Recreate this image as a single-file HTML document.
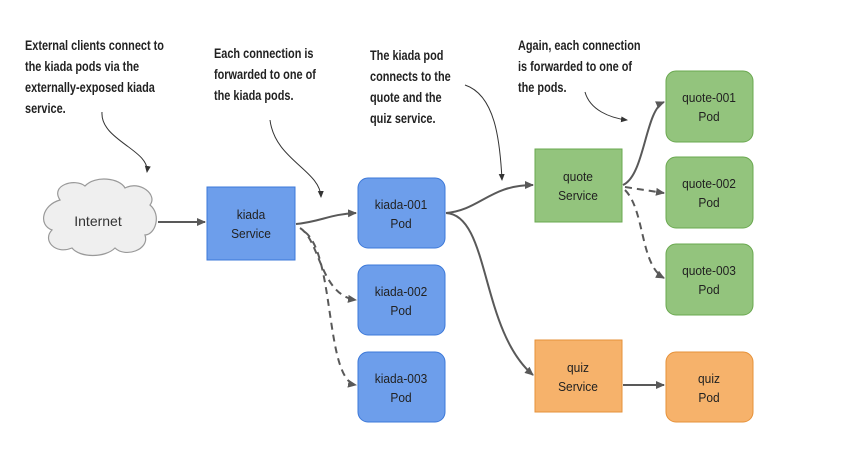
<!DOCTYPE html>
<html><head><style>html,body{margin:0;padding:0;background:#fff}</style></head><body>
<svg width="855" height="445" viewBox="0 0 855 445" xmlns="http://www.w3.org/2000/svg" font-family="Liberation Sans, sans-serif">
<defs>
<marker id="a" markerWidth="10" markerHeight="10" refX="8" refY="5" orient="auto" markerUnits="userSpaceOnUse"><path d="M0,1 L9,5 L0,9 z" fill="#595959"/></marker>
<marker id="b" markerWidth="8" markerHeight="8" refX="6" refY="4" orient="auto" markerUnits="userSpaceOnUse"><path d="M0,1 L7,4 L0,7 z" fill="#333"/></marker>
</defs>
<g font-weight="bold" font-size="13.5" fill="#222">
<g transform="translate(25,0) scale(0.81,1)">
<text x="0" y="50">External clients connect to</text>
<text x="0" y="71">the kiada pods via the</text>
<text x="0" y="92">externally-exposed kiada</text>
<text x="0" y="113">service.</text></g>
<g transform="translate(214,0) scale(0.81,1)">
<text x="0" y="58">Each connection is</text>
<text x="0" y="79">forwarded to one of</text>
<text x="0" y="100">the kiada pods.</text></g>
<g transform="translate(370,0) scale(0.81,1)">
<text x="0" y="60">The kiada pod</text>
<text x="0" y="81">connects to the</text>
<text x="0" y="102">quote and the</text>
<text x="0" y="123">quiz service.</text></g>
<g transform="translate(518,0) scale(0.81,1)">
<text x="0" y="50">Again, each connection</text>
<text x="0" y="71">is forwarded to one of</text>
<text x="0" y="92">the pods.</text></g>
</g>
<g fill="none" stroke="#333" stroke-width="1">
<path d="M102,112 C100,140 150,150 147,172" marker-end="url(#b)"/>
<path d="M270,120 C275,160 320,170 321,197" marker-end="url(#b)"/>
<path d="M465,85 C495,95 500,140 502,180" marker-end="url(#b)"/>
<path d="M585,92 C590,110 610,118 627,120" marker-end="url(#b)"/>
</g>
<path d="M60,200 C50,185 75,178 85,186 C95,175 120,178 125,188 C140,180 158,195 150,205 C162,215 155,235 145,235 C150,250 125,258 115,248 C105,258 80,258 72,248 C55,255 42,240 52,230 C38,225 42,205 60,200 z" fill="#efefef" stroke="#999" stroke-width="1.2"/>
<text x="98" y="226" font-size="14" text-anchor="middle" fill="#333">Internet</text>
<g fill="none" stroke="#595959" stroke-width="2">
<path d="M158,222 L205,222" marker-end="url(#a)"/>
<path d="M296,224 C320,222 330,214 356,213" marker-end="url(#a)"/>
<path d="M446,213 C480,210 490,185 533,185" marker-end="url(#a)"/>
<path d="M446,213 C490,215 480,330 533,375" marker-end="url(#a)"/>
<path d="M623,185 C645,175 645,110 664,102" marker-end="url(#a)"/>
<path d="M623,385 L664,385" marker-end="url(#a)"/>
<g stroke-dasharray="7,5">
<path d="M300,228 C320,240 320,295 356,300" marker-end="url(#a)"/>
<path d="M305,232 C335,255 325,380 356,385" marker-end="url(#a)"/>
<path d="M625,187 L664,193" marker-end="url(#a)"/>
<path d="M625,190 C645,210 640,265 664,278" marker-end="url(#a)"/>
</g></g>
<g fill="none">
<rect x="207" y="187" width="88" height="73" fill="#6d9eeb" stroke="#3c78d8"/>
<rect x="358" y="178" width="87" height="70" rx="10" fill="#6d9eeb" stroke="#3c78d8"/>
<rect x="358" y="265" width="87" height="70" rx="10" fill="#6d9eeb" stroke="#3c78d8"/>
<rect x="358" y="352" width="87" height="70" rx="10" fill="#6d9eeb" stroke="#3c78d8"/>
<rect x="535" y="149" width="87" height="73" fill="#93c47d" stroke="#6aa84f"/>
<rect x="666" y="71" width="87" height="71" rx="10" fill="#93c47d" stroke="#6aa84f"/>
<rect x="666" y="157" width="87" height="71" rx="10" fill="#93c47d" stroke="#6aa84f"/>
<rect x="666" y="244" width="87" height="71" rx="10" fill="#93c47d" stroke="#6aa84f"/>
<rect x="535" y="340" width="87" height="72" fill="#f6b26b" stroke="#e69138"/>
<rect x="666" y="352" width="87" height="70" rx="10" fill="#f6b26b" stroke="#e69138"/>
</g>
<g font-size="13" fill="#222" text-anchor="middle">
<g transform="translate(251,0) scale(0.92,1)"><text x="0" y="219">kiada</text><text x="0" y="238">Service</text></g>
<g transform="translate(401,0) scale(0.92,1)"><text x="0" y="209">kiada-001</text><text x="0" y="228">Pod</text>
<text x="0" y="296">kiada-002</text><text x="0" y="315">Pod</text>
<text x="0" y="383">kiada-003</text><text x="0" y="402">Pod</text></g>
<g transform="translate(578,0) scale(0.92,1)"><text x="0" y="181">quote</text><text x="0" y="200">Service</text>
<text x="0" y="372">quiz</text><text x="0" y="391">Service</text></g>
<g transform="translate(709,0) scale(0.92,1)"><text x="0" y="102">quote-001</text><text x="0" y="121">Pod</text>
<text x="0" y="188">quote-002</text><text x="0" y="207">Pod</text>
<text x="0" y="275">quote-003</text><text x="0" y="294">Pod</text>
<text x="0" y="383">quiz</text><text x="0" y="402">Pod</text></g>
</g>
</svg>
</body></html>
